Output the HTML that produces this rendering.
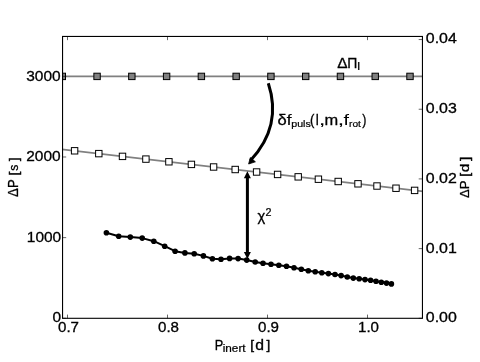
<!DOCTYPE html>
<html><head><meta charset="utf-8"><title>Period spacing</title>
<style>html,body{margin:0;padding:0;background:#fff;font-family:"Liberation Sans",sans-serif}svg{display:block;will-change:transform}</style></head>
<body>
<svg width="480" height="362" viewBox="0 0 480 362" style="display:block">
<rect width="480" height="362" fill="#fff"/>
<defs><clipPath id="c"><rect x="62.55" y="36.45" width="359.90" height="281.85"/></clipPath></defs>
<g clip-path="url(#c)">
<line x1="57.5" y1="76.40" x2="427.4" y2="76.40" stroke="#808080" stroke-width="1.8"/>
<line x1="57.5" y1="148.81" x2="427.4" y2="191.90" stroke="#808080" stroke-width="1.8"/>
<rect x="59.10" y="73.20" width="6.40" height="6.40" fill="#808080" stroke="#000" stroke-width="1"/>
<rect x="93.87" y="73.20" width="6.40" height="6.40" fill="#808080" stroke="#000" stroke-width="1"/>
<rect x="128.64" y="73.20" width="6.40" height="6.40" fill="#808080" stroke="#000" stroke-width="1"/>
<rect x="163.41" y="73.20" width="6.40" height="6.40" fill="#808080" stroke="#000" stroke-width="1"/>
<rect x="198.18" y="73.20" width="6.40" height="6.40" fill="#808080" stroke="#000" stroke-width="1"/>
<rect x="232.95" y="73.20" width="6.40" height="6.40" fill="#808080" stroke="#000" stroke-width="1"/>
<rect x="267.72" y="73.20" width="6.40" height="6.40" fill="#808080" stroke="#000" stroke-width="1"/>
<rect x="302.49" y="73.20" width="6.40" height="6.40" fill="#808080" stroke="#000" stroke-width="1"/>
<rect x="337.26" y="73.20" width="6.40" height="6.40" fill="#808080" stroke="#000" stroke-width="1"/>
<rect x="372.03" y="73.20" width="6.40" height="6.40" fill="#808080" stroke="#000" stroke-width="1"/>
<rect x="406.80" y="73.20" width="6.40" height="6.40" fill="#808080" stroke="#000" stroke-width="1"/>
<rect x="71.40" y="147.60" width="6.40" height="6.40" fill="#fff" stroke="#000" stroke-width="1"/>
<rect x="95.60" y="150.42" width="6.40" height="6.40" fill="#fff" stroke="#000" stroke-width="1"/>
<rect x="119.30" y="153.18" width="6.40" height="6.40" fill="#fff" stroke="#000" stroke-width="1"/>
<rect x="142.70" y="155.90" width="6.40" height="6.40" fill="#fff" stroke="#000" stroke-width="1"/>
<rect x="165.70" y="158.58" width="6.40" height="6.40" fill="#fff" stroke="#000" stroke-width="1"/>
<rect x="188.20" y="161.20" width="6.40" height="6.40" fill="#fff" stroke="#000" stroke-width="1"/>
<rect x="210.40" y="163.79" width="6.40" height="6.40" fill="#fff" stroke="#000" stroke-width="1"/>
<rect x="232.00" y="166.31" width="6.40" height="6.40" fill="#fff" stroke="#000" stroke-width="1"/>
<rect x="253.40" y="168.80" width="6.40" height="6.40" fill="#fff" stroke="#000" stroke-width="1"/>
<rect x="274.40" y="171.24" width="6.40" height="6.40" fill="#fff" stroke="#000" stroke-width="1"/>
<rect x="295.00" y="173.64" width="6.40" height="6.40" fill="#fff" stroke="#000" stroke-width="1"/>
<rect x="315.20" y="176.00" width="6.40" height="6.40" fill="#fff" stroke="#000" stroke-width="1"/>
<rect x="335.00" y="178.30" width="6.40" height="6.40" fill="#fff" stroke="#000" stroke-width="1"/>
<rect x="354.80" y="180.61" width="6.40" height="6.40" fill="#fff" stroke="#000" stroke-width="1"/>
<rect x="373.80" y="182.82" width="6.40" height="6.40" fill="#fff" stroke="#000" stroke-width="1"/>
<rect x="392.80" y="185.03" width="6.40" height="6.40" fill="#fff" stroke="#000" stroke-width="1"/>
<rect x="411.40" y="187.20" width="6.40" height="6.40" fill="#fff" stroke="#000" stroke-width="1"/>
<polyline fill="none" stroke="#000" stroke-width="2" stroke-linejoin="round" points="106.4,232.8 118.7,236.2 130.3,237.1 142.2,238.1 153.8,241.2 164.7,246.2 175.1,251.2 184.9,252.9 194.2,253.8 203.4,255.9 212.4,258.8 221.0,259.2 229.6,258.4 238.1,258.6 246.7,260.1 255.2,262.0 263.0,263.3 271.0,264.3 278.8,265.3 286.5,266.3 294.0,267.7 301.3,269.3 308.3,270.7 315.2,271.8 321.8,272.8 328.4,273.6 335.0,274.5 341.1,275.6 347.3,277.0 353.3,278.1 359.2,278.8 365.0,279.6 370.6,280.3 376.0,281.3 381.3,282.2 386.5,283.1 391.4,283.9"/>
<circle cx="106.4" cy="232.8" r="2.8" fill="#000"/>
<circle cx="118.7" cy="236.2" r="2.8" fill="#000"/>
<circle cx="130.3" cy="237.1" r="2.8" fill="#000"/>
<circle cx="142.2" cy="238.1" r="2.8" fill="#000"/>
<circle cx="153.8" cy="241.2" r="2.8" fill="#000"/>
<circle cx="164.7" cy="246.2" r="2.8" fill="#000"/>
<circle cx="175.1" cy="251.2" r="2.8" fill="#000"/>
<circle cx="184.9" cy="252.9" r="2.8" fill="#000"/>
<circle cx="194.2" cy="253.8" r="2.8" fill="#000"/>
<circle cx="203.4" cy="255.9" r="2.8" fill="#000"/>
<circle cx="212.4" cy="258.8" r="2.8" fill="#000"/>
<circle cx="221.0" cy="259.2" r="2.8" fill="#000"/>
<circle cx="229.6" cy="258.4" r="2.8" fill="#000"/>
<circle cx="238.1" cy="258.6" r="2.8" fill="#000"/>
<circle cx="246.7" cy="260.1" r="2.8" fill="#000"/>
<circle cx="255.2" cy="262.0" r="2.8" fill="#000"/>
<circle cx="263.0" cy="263.3" r="2.8" fill="#000"/>
<circle cx="271.0" cy="264.3" r="2.8" fill="#000"/>
<circle cx="278.8" cy="265.3" r="2.8" fill="#000"/>
<circle cx="286.5" cy="266.3" r="2.8" fill="#000"/>
<circle cx="294.0" cy="267.7" r="2.8" fill="#000"/>
<circle cx="301.3" cy="269.3" r="2.8" fill="#000"/>
<circle cx="308.3" cy="270.7" r="2.8" fill="#000"/>
<circle cx="315.2" cy="271.8" r="2.8" fill="#000"/>
<circle cx="321.8" cy="272.8" r="2.8" fill="#000"/>
<circle cx="328.4" cy="273.6" r="2.8" fill="#000"/>
<circle cx="335.0" cy="274.5" r="2.8" fill="#000"/>
<circle cx="341.1" cy="275.6" r="2.8" fill="#000"/>
<circle cx="347.3" cy="277.0" r="2.8" fill="#000"/>
<circle cx="353.3" cy="278.1" r="2.8" fill="#000"/>
<circle cx="359.2" cy="278.8" r="2.8" fill="#000"/>
<circle cx="365.0" cy="279.6" r="2.8" fill="#000"/>
<circle cx="370.6" cy="280.3" r="2.8" fill="#000"/>
<circle cx="376.0" cy="281.3" r="2.8" fill="#000"/>
<circle cx="381.3" cy="282.2" r="2.8" fill="#000"/>
<circle cx="386.5" cy="283.1" r="2.8" fill="#000"/>
<circle cx="391.4" cy="283.9" r="2.8" fill="#000"/>
</g>
<rect x="62.55" y="36.45" width="359.90" height="281.85" fill="none" stroke="#000" stroke-width="1.1"/>
<path d="M67.5 318.30v-3.7M67.5 36.45v3.7M167.5 318.30v-3.7M167.5 36.45v3.7M267.5 318.30v-3.7M267.5 36.45v3.7M367.5 318.30v-3.7M367.5 36.45v3.7M62.5 318.30h3.7M62.5 237.64h3.7M62.5 156.99h3.7M62.5 76.33h3.7M422.4 318.30h-3.7M422.4 248.61h-3.7M422.4 178.92h-3.7M422.4 109.24h-3.7M422.4 39.55h-3.7" stroke="#000" stroke-width="0.6" fill="none"/>
<path d="M268.3 83.3Q282.5 126.3 250.5 160.5" fill="none" stroke="#000" stroke-width="3"/>
<polygon points="248.6,164 250.3,157.6 255.4,161.8" fill="#000" stroke="#000" stroke-width="0.8" stroke-linejoin="round"/>
<line x1="247.4" y1="177" x2="247.4" y2="253" stroke="#000" stroke-width="3"/>
<polygon points="247.4,171.3 243.9,178.3 250.9,178.3" fill="#000"/>
<polygon points="247.4,259 243.9,252 250.9,252" fill="#000"/>
<g font-family="'Liberation Sans', sans-serif" font-size="14.5" fill="#000" stroke="#000" stroke-width="0.3">
<text x="52.4" y="321.9" textLength="8.6" lengthAdjust="spacingAndGlyphs" text-anchor="start">0</text>
<text x="26.8" y="241.9" textLength="34.4" lengthAdjust="spacingAndGlyphs" text-anchor="start">1000</text>
<text x="26.2" y="161.2" textLength="34.4" lengthAdjust="spacingAndGlyphs" text-anchor="start">2000</text>
<text x="26.2" y="80.6" textLength="34.4" lengthAdjust="spacingAndGlyphs" text-anchor="start">3000</text>
<text x="425.8" y="322.2" textLength="31.0" lengthAdjust="spacingAndGlyphs" text-anchor="start">0.00</text>
<text x="425.8" y="252.5" textLength="31.0" lengthAdjust="spacingAndGlyphs" text-anchor="start">0.01</text>
<text x="425.8" y="182.8" textLength="31.0" lengthAdjust="spacingAndGlyphs" text-anchor="start">0.02</text>
<text x="425.8" y="113.1" textLength="31.0" lengthAdjust="spacingAndGlyphs" text-anchor="start">0.03</text>
<text x="425.8" y="43.4" textLength="31.0" lengthAdjust="spacingAndGlyphs" text-anchor="start">0.04</text>
<text x="58.0" y="332.4" textLength="21.0" lengthAdjust="spacingAndGlyphs" text-anchor="start">0.7</text>
<text x="158.0" y="332.4" textLength="21.0" lengthAdjust="spacingAndGlyphs" text-anchor="start">0.8</text>
<text x="258.0" y="332.4" textLength="21.0" lengthAdjust="spacingAndGlyphs" text-anchor="start">0.9</text>
<text x="358.0" y="332.4" textLength="21.0" lengthAdjust="spacingAndGlyphs" text-anchor="start">1.0</text>
<text transform="translate(17.90 196.50) rotate(-90) translate(-0.39 0) scale(0.9086 0.9724)" font-size="14.50" stroke-width="0.30">ΔP</text>
<text transform="translate(17.77 174.50) rotate(-90) translate(-0.99 0) scale(0.9543 0.9396)" font-size="14.50" stroke-width="0.55">[</text>
<text transform="translate(17.92 170.40) rotate(-90) translate(-0.34 0) scale(0.8383 0.9403)" font-size="14.50" stroke-width="0.30">s</text>
<text transform="translate(17.77 161.00) rotate(-90) translate(-0.10 0) scale(0.8676 0.9396)" font-size="14.50" stroke-width="0.55">]</text>
<text transform="translate(468.90 197.60) rotate(-90) translate(-0.39 0) scale(0.8976 0.9423)" font-size="14.50" stroke-width="0.30">ΔP</text>
<text transform="translate(468.87 175.75) rotate(-90) translate(-0.99 0) scale(0.9543 0.9396)" font-size="14.50" stroke-width="0.55">[</text>
<text transform="translate(468.92 171.60) rotate(-90) translate(-0.64 0) scale(1.0582 0.9438)" font-size="14.50" stroke-width="0.30">d</text>
<text transform="translate(468.87 160.60) rotate(-90) translate(-0.11 0) scale(0.9717 0.9396)" font-size="14.50" stroke-width="0.55">]</text>
<text transform="translate(214.65 350.00) scale(0.8811 0.9924)" font-size="14.50" stroke-width="0.30">P</text>
<text transform="translate(222.71 352.30) scale(1.1758 1.0349)" font-size="10.00" stroke-width="0.22">inert</text>
<text transform="translate(250.33 348.88) scale(0.9370 0.9026)" font-size="14.50" stroke-width="0.50">[</text>
<text transform="translate(255.34 350.01) scale(1.0888 1.0095)" font-size="14.50" stroke-width="0.30">d</text>
<text transform="translate(266.50 348.88) scale(0.9023 0.9026)" font-size="14.50" stroke-width="0.50">]</text>
<text transform="translate(337.24 67.70) scale(1.0664 1.0024)" font-size="14.50" stroke-width="0.30">Δ</text>
<text transform="translate(347.35 67.70) scale(0.9630 1.0024)" font-size="14.50" stroke-width="0.30">Π</text>
<text transform="translate(357.36 69.75) scale(1.2516 1.0143)" font-size="10.00" stroke-width="0.22">l</text>
<text transform="translate(277.41 125.06) scale(1.1393 0.9767)" font-size="14.50" stroke-width="0.30">δ</text>
<text transform="translate(286.43 125.00) scale(1.3006 0.9721)" font-size="14.50" stroke-width="0.00">f</text>
<text transform="translate(291.21 127.34) scale(1.0670 0.9709)" font-size="10.00" stroke-width="0.22">puls</text>
<text transform="translate(310.08 124.84) scale(0.9104 0.9845)" font-size="14.50" stroke-width="0.30">(</text>
<text transform="translate(315.78 125.00) scale(0.9416 0.9708)" font-size="14.50" stroke-width="0.30">l</text>
<text transform="translate(318.70 125.18) scale(1.6865 1.1452)" font-size="14.50" stroke-width="0.00">,</text>
<text transform="translate(324.61 125.00) scale(1.1319 0.9741)" font-size="14.50" stroke-width="0.30">m</text>
<text transform="translate(337.60 125.18) scale(1.6865 1.1452)" font-size="14.50" stroke-width="0.00">,</text>
<text transform="translate(343.47 125.00) scale(1.3656 0.9721)" font-size="14.50" stroke-width="0.00">f</text>
<text transform="translate(349.03 127.00) scale(1.0153 0.9752)" font-size="10.00" stroke-width="0.22">rot</text>
<text transform="translate(362.13 124.84) scale(0.8584 0.9845)" font-size="14.50" stroke-width="0.30">)</text>
<text transform="translate(257.55 221.09) scale(1.0147 1.0353)" font-size="14.50" stroke-width="0.30">χ</text>
<text transform="translate(265.46 215.75) scale(1.0756 1.0383)" font-size="10.00" stroke-width="0.22">2</text>
</g>
</svg>
</body></html>
